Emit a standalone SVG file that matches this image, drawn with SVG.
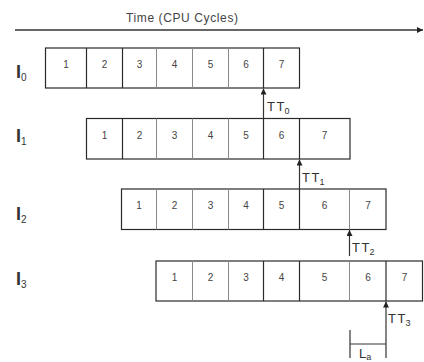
<svg xmlns="http://www.w3.org/2000/svg" width="424" height="362" viewBox="0 0 424 362">
  <style>
    .box { fill: #fff; stroke: #2a2a2a; stroke-width: 1.2; }
    .dk { stroke: #2a2a2a; stroke-width: 1.2; }
    .lt { stroke: #8a8a8a; stroke-width: 1; }
    .num { font-family: "Liberation Sans", Arial, sans-serif; font-size: 10px; fill: #444; text-anchor: middle; }
    .row { font-family: "Liberation Sans", Arial, sans-serif; font-size: 18px; font-weight: bold; fill: #333; }
    .sub { font-size: 10px; font-weight: normal; }
    .tt { font-family: "Liberation Sans", Arial, sans-serif; font-size: 13px; fill: #333; }
    .ttsub { font-size: 9px; }
    .axis { stroke: #333; stroke-width: 1.4; fill: none; }
    .ptr { stroke: #333; stroke-width: 1.2; fill: none; }
  </style>
  <defs>
    <marker id="head" viewBox="0 0 10 10" refX="10" refY="5" markerWidth="6" markerHeight="6" orient="auto" markerUnits="userSpaceOnUse">
      <path d="M0,0 L10,5 L0,10 z" fill="#222"/>
    </marker>
    <marker id="axhead" viewBox="0 0 10 10" refX="10" refY="5" markerWidth="6" markerHeight="6" orient="auto" markerUnits="userSpaceOnUse">
      <path d="M0,0 L10,5 L0,10 z" fill="#222"/>
    </marker>
  </defs>

  <!-- time axis -->
  <g id="time-axis">
    <text x="182" y="22" font-family="Liberation Sans, Arial, sans-serif" font-size="12" fill="#444" text-anchor="middle" textLength="112">Time (CPU Cycles)</text>
    <line class="axis" x1="15" y1="30" x2="423" y2="30" marker-end="url(#axhead)"/>
  </g>

  <!-- instruction I0 -->
  <g id="I0">
    <text class="row" x="16" y="78">I<tspan class="sub" dy="3">0</tspan></text>
    <rect class="box" x="45.5" y="48" width="254" height="40"/>
    <line class="dk" x1="86.5" y1="48" x2="86.5" y2="88"/>
    <line class="dk" x1="122.5" y1="48" x2="122.5" y2="88"/>
    <line class="lt" x1="156.5" y1="48" x2="156.5" y2="88"/>
    <line class="lt" x1="192.5" y1="48" x2="192.5" y2="88"/>
    <line class="lt" x1="228.5" y1="48" x2="228.5" y2="88"/>
    <line class="dk" x1="263.5" y1="48" x2="263.5" y2="88"/>
    <text class="num" x="66" y="68">1</text>
    <text class="num" x="104.5" y="68">2</text>
    <text class="num" x="139.5" y="68">3</text>
    <text class="num" x="174.5" y="68">4</text>
    <text class="num" x="210.5" y="68">5</text>
    <text class="num" x="246" y="68">6</text>
    <text class="num" x="281.5" y="68">7</text>
  </g>

  <!-- instruction I1 -->
  <g id="I1">
    <text class="row" x="16" y="142">I<tspan class="sub" dy="3">1</tspan></text>
    <rect class="box" x="86.5" y="118.5" width="263.5" height="40.5"/>
    <line class="dk" x1="122.5" y1="118.5" x2="122.5" y2="159"/>
    <line class="lt" x1="156.5" y1="118.5" x2="156.5" y2="159"/>
    <line class="lt" x1="192.5" y1="118.5" x2="192.5" y2="159"/>
    <line class="lt" x1="228.5" y1="118.5" x2="228.5" y2="159"/>
    <line class="dk" x1="263.5" y1="118.5" x2="263.5" y2="159"/>
    <line class="dk" x1="299.5" y1="118.5" x2="299.5" y2="159"/>
    <text class="num" x="104.5" y="138.5">1</text>
    <text class="num" x="139.5" y="138.5">2</text>
    <text class="num" x="174.5" y="138.5">3</text>
    <text class="num" x="210.5" y="138.5">4</text>
    <text class="num" x="246" y="138.5">5</text>
    <text class="num" x="281.5" y="138.5">6</text>
    <text class="num" x="324.5" y="138.5">7</text>
  </g>

  <!-- instruction I2 -->
  <g id="I2">
    <text class="row" x="16" y="220">I<tspan class="sub" dy="3">2</tspan></text>
    <rect class="box" x="121.5" y="189" width="264.5" height="40.5"/>
    <line class="lt" x1="156.5" y1="189" x2="156.5" y2="229.5"/>
    <line class="lt" x1="192.5" y1="189" x2="192.5" y2="229.5"/>
    <line class="lt" x1="228.5" y1="189" x2="228.5" y2="229.5"/>
    <line class="dk" x1="263.5" y1="189" x2="263.5" y2="229.5"/>
    <line class="dk" x1="299.5" y1="189" x2="299.5" y2="229.5"/>
    <line class="lt" x1="349.5" y1="189" x2="349.5" y2="229.5"/>
    <text class="num" x="139" y="209">1</text>
    <text class="num" x="174.5" y="209">2</text>
    <text class="num" x="210.5" y="209">3</text>
    <text class="num" x="246" y="209">4</text>
    <text class="num" x="281.5" y="209">5</text>
    <text class="num" x="324.5" y="209">6</text>
    <text class="num" x="368" y="209">7</text>
  </g>

  <!-- instruction I3 -->
  <g id="I3">
    <text class="row" x="16" y="285">I<tspan class="sub" dy="3">3</tspan></text>
    <rect class="box" x="156" y="261" width="266.5" height="40"/>
    <line class="lt" x1="192.5" y1="261" x2="192.5" y2="301"/>
    <line class="lt" x1="228.5" y1="261" x2="228.5" y2="301"/>
    <line class="dk" x1="263.5" y1="261" x2="263.5" y2="301"/>
    <line class="dk" x1="299.5" y1="261" x2="299.5" y2="301"/>
    <line class="lt" x1="349.5" y1="261" x2="349.5" y2="301"/>
    <line class="dk" x1="386" y1="261" x2="386" y2="301"/>
    <text class="num" x="174.5" y="281">1</text>
    <text class="num" x="210.5" y="281">2</text>
    <text class="num" x="246" y="281">3</text>
    <text class="num" x="281.5" y="281">4</text>
    <text class="num" x="324.5" y="281">5</text>
    <text class="num" x="368" y="281">6</text>
    <text class="num" x="404.5" y="281">7</text>
  </g>

  <!-- completion pointers and latency span -->
  <g id="connectors">
    <line class="ptr" x1="263.5" y1="118" x2="263.5" y2="88.5" marker-end="url(#head)"/>
    <line class="ptr" x1="299.5" y1="189" x2="299.5" y2="159.5" marker-end="url(#head)"/>
    <line class="ptr" x1="349.5" y1="256" x2="349.5" y2="230" marker-end="url(#head)"/>
    <line class="ptr" x1="386" y1="358" x2="386" y2="301.5" marker-end="url(#head)"/>
    <line class="ptr" x1="350" y1="330" x2="350" y2="358"/>
    <line class="ptr" x1="350" y1="344" x2="386" y2="344"/>
  </g>

  <g id="labels">
    <text class="tt" x="267" y="111">T<tspan dx="1.5">T</tspan><tspan class="ttsub" dy="3">0</tspan></text>
    <text class="tt" x="302" y="182">T<tspan dx="1.5">T</tspan><tspan class="ttsub" dy="3">1</tspan></text>
    <text class="tt" x="352" y="252">T<tspan dx="1.5">T</tspan><tspan class="ttsub" dy="3">2</tspan></text>
    <text class="tt" x="388" y="323">T<tspan dx="1.5">T</tspan><tspan class="ttsub" dy="3">3</tspan></text>
    <text class="tt" x="359" y="358">L<tspan class="ttsub" dy="2">a</tspan></text>
  </g>
</svg>
